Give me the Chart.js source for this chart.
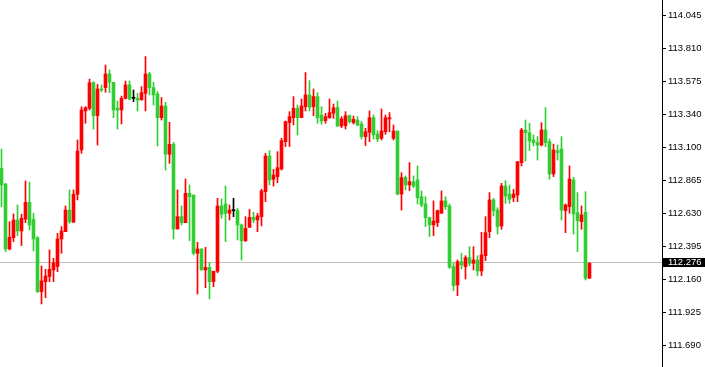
<!DOCTYPE html>
<html>
<head>
<meta charset="utf-8">
<script src="https://cdn.jsdelivr.net/npm/chart.js@4.4.1/dist/chart.umd.min.js"></script>
<style>
  html, body { margin: 0; padding: 0; background: #fff; }
  #wrap { width: 705px; height: 367px; position: relative; }
</style>
</head>
<body>
<div id="wrap"><canvas id="priceChart"></canvas></div>
<script>
// candle values, oldest first
const opens = [112.953,112.842,112.379,112.459,112.585,112.507,112.592,112.711,112.590,112.459,
  112.075,112.146,112.182,112.229,112.253,112.450,112.502,112.656,112.569,112.768,
  113.084,113.362,113.381,113.563,113.328,113.516,113.528,113.625,113.566,113.381,
  113.369,113.452,113.547,113.452,113.452,113.440,113.487,113.625,113.528,113.483,
  113.314,113.397,113.053,113.124,112.521,112.609,112.566,112.775,112.763,112.348,
  112.379,112.229,112.248,112.146,112.220,112.685,112.699,112.633,112.652,112.652,
  112.550,112.438,112.533,112.604,112.585,112.609,112.787,113.041,112.875,112.894,
  112.948,113.143,113.279,113.314,113.381,113.314,113.392,113.476,113.392,113.464,
  113.333,113.293,113.314,113.345,113.385,113.255,113.257,113.328,113.279,113.297,
  113.269,113.179,113.210,113.314,113.198,113.167,113.214,113.305,113.167,113.219,
  112.770,112.887,112.835,112.858,112.870,112.751,112.699,112.602,112.550,112.566,
  112.633,112.721,112.685,112.253,112.122,112.288,112.253,112.317,112.277,112.300,
  112.222,112.331,112.502,112.728,112.656,112.542,112.827,112.770,112.744,112.763,
  112.993,113.226,113.207,113.155,113.136,113.119,113.226,113.143,112.913,113.079,
  113.091,112.652,112.680,112.870,112.637,112.573,112.640,112.170];
const highs = [113.091,112.846,112.573,112.628,112.692,112.626,112.863,112.854,112.633,112.467,
  112.258,112.234,112.372,112.312,112.490,112.538,112.685,112.799,112.799,113.155,
  113.392,113.392,113.589,113.570,113.551,113.547,113.689,113.654,113.566,113.433,
  113.468,113.575,113.575,113.511,113.487,113.535,113.749,113.637,113.566,113.499,
  113.457,113.423,113.281,113.138,112.799,112.685,112.877,112.835,112.763,112.426,
  112.379,112.391,112.281,112.220,112.740,112.735,112.827,112.692,112.740,112.668,
  112.557,112.609,112.661,112.640,112.633,112.804,113.060,113.079,112.946,113.072,
  113.167,113.290,113.357,113.464,113.404,113.447,113.635,113.578,113.518,113.492,
  113.392,113.345,113.447,113.411,113.433,113.321,113.357,113.333,113.326,113.321,
  113.286,113.238,113.362,113.333,113.221,113.376,113.333,113.350,113.262,113.219,
  112.922,112.899,112.994,112.899,112.970,112.792,112.751,112.604,112.721,112.656,
  112.792,112.751,112.699,112.281,112.300,112.348,112.331,112.395,112.395,112.331,
  112.497,112.609,112.780,112.739,112.673,112.846,112.865,112.834,112.804,113.001,
  113.238,113.297,113.274,113.191,113.179,113.278,113.385,113.162,113.126,113.119,
  113.179,112.699,112.970,112.889,112.780,112.685,112.787,112.283];
const lows = [112.680,112.360,112.372,112.431,112.474,112.403,112.566,112.514,112.364,112.068,
  111.987,112.032,112.146,112.146,112.217,112.348,112.502,112.562,112.569,112.728,
  113.060,113.274,113.369,113.233,113.119,113.499,113.495,113.492,113.314,113.233,
  113.269,113.447,113.440,113.428,113.362,113.440,113.362,113.476,113.404,113.112,
  113.297,112.941,112.989,112.450,112.521,112.550,112.566,112.438,112.336,112.058,
  112.229,112.103,112.023,112.110,112.210,112.597,112.431,112.585,112.609,112.443,
  112.300,112.431,112.531,112.566,112.502,112.543,112.716,112.835,112.827,112.851,
  112.941,113.108,113.108,113.262,113.191,113.314,113.362,113.362,113.328,113.274,
  113.267,113.274,113.309,113.309,113.250,113.243,113.233,113.274,113.269,113.255,
  113.162,113.115,113.143,113.162,113.143,113.155,113.195,113.214,113.155,112.763,
  112.656,112.799,112.794,112.816,112.699,112.680,112.538,112.467,112.474,112.538,
  112.633,112.661,112.241,112.082,112.046,112.236,112.165,112.260,112.229,112.189,
  112.189,112.296,112.459,112.614,112.485,112.519,112.704,112.704,112.716,112.716,
  112.970,113.005,113.079,113.112,113.012,113.112,113.107,112.875,112.894,113.012,
  112.585,112.495,112.633,112.485,112.360,112.519,112.158,112.170];
const closes = [112.835,112.379,112.462,112.585,112.507,112.597,112.711,112.550,112.450,112.075,
  112.151,112.186,112.234,112.281,112.450,112.507,112.656,112.573,112.768,113.077,
  113.369,113.385,113.563,113.328,113.518,113.511,113.625,113.566,113.369,113.369,
  113.452,113.547,113.447,113.452,113.440,113.492,113.625,113.528,113.476,113.314,
  113.397,113.055,113.124,112.521,112.609,112.566,112.775,112.751,112.348,112.379,
  112.229,112.248,112.146,112.220,112.685,112.626,112.633,112.656,112.652,112.550,
  112.438,112.526,112.604,112.585,112.614,112.792,113.041,112.870,112.906,112.958,
  113.150,113.286,113.321,113.381,113.314,113.397,113.476,113.388,113.464,113.314,
  113.290,113.321,113.350,113.385,113.255,113.305,113.328,113.286,113.302,113.262,
  113.179,113.214,113.314,113.191,113.162,113.219,113.314,113.314,113.219,112.770,
  112.887,112.835,112.858,112.827,112.744,112.692,112.602,112.550,112.578,112.652,
  112.721,112.680,112.248,112.118,112.288,112.265,112.317,112.277,112.300,112.222,
  112.336,112.495,112.728,112.652,112.538,112.827,112.756,112.732,112.770,113.001,
  113.226,113.207,113.148,113.136,113.119,113.226,113.136,112.913,113.084,113.065,
  112.656,112.692,112.877,112.628,112.580,112.621,112.170,112.276];

// price axis labels
const priceTicks = [111.690, 111.925, 112.160, 112.395, 112.630, 112.865, 113.100, 113.340, 113.575, 113.810, 114.045];
const yMin = 111.538;
const yMax = 114.152;

const upColor = '#ff0000';
const downColor = '#32cd32';
const flatColor = '#000000';
const lastPrice = closes[closes.length - 1];

// colour of each candle, red up / green down like the terminal
var candleColors = closes.map(function (c, i) {
  if (c > opens[i]) return upColor;
  if (c < opens[i]) return downColor;
  return flatColor;
});

var bodyData = opens.map(function (o, i) { return { x: i, y: [o, closes[i]] }; });
var wickData = lows.map(function (l, i) { return { x: i, y: [l, highs[i]] }; });

const fontFamily = "'Liberation Sans', Arial, sans-serif";
const fontSize = 9.5;

// grey line at the last price and the black price box on the axis
const lastPricePlugin = {
  id: 'lastPrice',
  beforeDatasetsDraw(chart) {
    const ctx = chart.ctx;
    const area = chart.chartArea;
    const py = Math.round(chart.scales.y.getPixelForValue(lastPrice)) - 0.5;
    ctx.save();
    ctx.strokeStyle = '#c0c0c0';
    ctx.lineWidth = 1;
    ctx.beginPath();
    ctx.moveTo(area.left, py);
    ctx.lineTo(area.right, py);
    ctx.stroke();
    ctx.restore();
  },
  afterDraw(chart) {
    const ctx = chart.ctx;
    const area = chart.chartArea;
    const py = Math.round(chart.scales.y.getPixelForValue(lastPrice)) - 1;
    ctx.save();
    ctx.fillStyle = '#000';
    ctx.fillRect(area.right + 1, py - 4, chart.width - area.right - 1, 9);
    ctx.fillStyle = '#fff';
    ctx.font = fontSize + 'px ' + fontFamily;
    ctx.textBaseline = 'middle';
    ctx.fillText(lastPrice.toFixed(3), area.right + 6, py + 0.5);
    ctx.restore();
  }
};

const priceChart = new Chart(document.getElementById('priceChart').getContext('2d'), {
  type: 'bar',
  data: {
    datasets: [{
      label: 'body',
      data: bodyData,
      backgroundColor: candleColors,
      barThickness: 3,
      minBarLength: 1,
      grouped: false,
      borderWidth: 0
    }, {
      label: 'wick',
      data: wickData,
      backgroundColor: candleColors,
      barThickness: 1,
      grouped: false,
      borderWidth: 0
    }]
  },
  options: {
    responsive: true,
    maintainAspectRatio: false,
    animation: false,
    layout: { padding: 0 },
    plugins: {
      legend: { display: false },
      tooltip: { enabled: false }
    },
    scales: {
      x: {
        type: 'linear',
        display: false,
        offset: false,
        min: -0.375,
        max: 165.125
      },
      y: {
        position: 'right',
        min: yMin,
        max: yMax,
        afterBuildTicks: function (scale) {
          scale.ticks = priceTicks.map(function (v) { return { value: v }; });
        },
        afterFit: function (scale) {
          scale.width = 43;
          scale.paddingTop = 0;
          scale.paddingBottom = 0;
        },
        border: { color: '#000', width: 1 },
        grid: { drawOnChartArea: false, tickLength: 4, color: '#000' },
        ticks: {
          color: '#000',
          padding: 2,
          font: { family: fontFamily, size: fontSize },
          callback: function (v) { return Number(v).toFixed(3); }
        }
      }
    }
  },
  plugins: [lastPricePlugin]
});
</script>
</body>
</html>
